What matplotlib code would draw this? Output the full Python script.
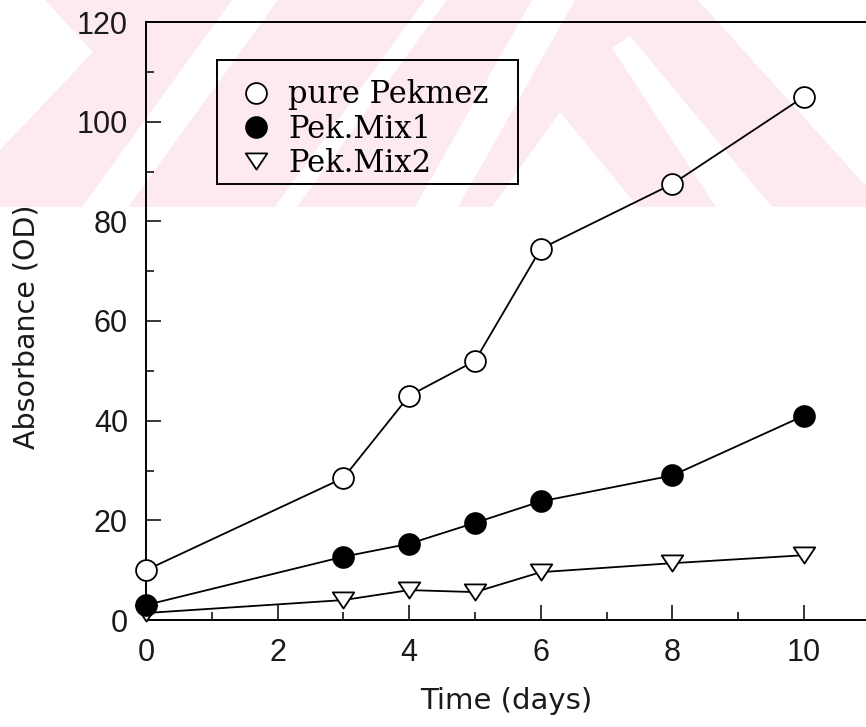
import matplotlib
matplotlib.use("Agg")
import matplotlib.pyplot as plt
from matplotlib.lines import Line2D
from matplotlib.patches import Polygon, Rectangle
from matplotlib.path import Path
from matplotlib.ticker import MultipleLocator

# ---- data ----
days = [0, 3, 4, 5, 6, 8, 10]
pure_pekmez = [10, 28.5, 45, 52, 74.5, 87.5, 105]
pek_mix1 = [3, 12.7, 15.3, 19.5, 23.8, 29, 41]
pek_mix2 = [1.4, 4.0, 6.0, 5.6, 9.6, 11.4, 13.0]
series_labels = ["pure Pekmez", "Pek.Mix1", "Pek.Mix2"]
x_ticks = [0, 2, 4, 6, 8, 10]
y_ticks = [0, 20, 40, 60, 80, 100, 120]
x_label = "Time (days)"
y_label = "Absorbance (OD)"

W, H = 866, 727
fig = plt.figure(figsize=(W / 100, H / 100), dpi=100)
fig.patch.set_facecolor("white")


def fpt(x, y):
    """pixel position (from top-left) -> figure fraction"""
    return (x / W, 1 - y / H)


# ---- faint pink stamp across the top of the page ----
PINK = "#fdeaee"
fig.add_artist(Rectangle((0, 1 - 207 / H), 1, 207 / H, transform=fig.transFigure,
                         facecolor=PINK, edgecolor="none", zorder=-2))
gaps = [
    [(0, 0), (45, 0), (93, 52), (0, 150)],
    [(82, 207), (128, 207), (278, 0), (232, 0)],
    [(275, 207), (297, 207), (447, 0), (425, 0)],
    [(415, 207), (458, 207), (575, 0), (532, 0)],
    [(560, 112), (492, 207), (638, 207)],
    [(612, 48), (630, 36), (772, 207), (716, 207)],
    [(698, 0), (866, 0), (866, 186)],
]
for g in gaps:
    fig.add_artist(Polygon([fpt(*p) for p in g], closed=True, transform=fig.transFigure,
                           facecolor="white", edgecolor="none", zorder=-1))

# ---- axes ----
x0_px, top_px, bot_px = 146, 22, 620
px_per_day = 65.8
ax = fig.add_axes([x0_px / W, 1 - bot_px / H, 1 - x0_px / W, (bot_px - top_px) / H])
ax.set_zorder(1)
ax.set_facecolor("none")
ax.set_xlim(0, (W - x0_px) / px_per_day)
ax.set_ylim(0, 120)

tri = Path([(-1, 0.75), (1, 0.75), (0, -0.75), (-1, 0.75)],
           [Path.MOVETO, Path.LINETO, Path.LINETO, Path.CLOSEPOLY])

common = dict(color="black", lw=1.3, markeredgewidth=1.3, clip_on=False)
ax.plot(days, pek_mix2, marker=tri, markersize=15.5, markerfacecolor="white", zorder=3, **common)
ax.plot(days, pek_mix1, marker="o", markersize=15, markerfacecolor="black", zorder=4, **common)
ax.plot(days, pure_pekmez, marker="o", markersize=15, markerfacecolor="white", zorder=5, **common)

for s in ["left", "bottom", "top"]:
    ax.spines[s].set_linewidth(1.4)
ax.spines["right"].set_visible(False)

ax.set_xticks(x_ticks)
ax.set_yticks(y_ticks)
ax.xaxis.set_minor_locator(MultipleLocator(1))
ax.yaxis.set_minor_locator(MultipleLocator(10))
ax.tick_params(which="both", direction="in", width=1.1, top=False, right=False)
ax.tick_params(which="major", length=10.5)
ax.tick_params(which="minor", length=5.5)
ax.tick_params(axis="x", which="major", pad=13)
ax.tick_params(axis="y", which="major", pad=13)
ax.set_axisbelow(False)
for lab in ax.get_xticklabels() + ax.get_yticklabels():
    lab.set_fontfamily("Liberation Sans")
    lab.set_fontsize(22)
    lab.set_color("#1a1a1a")

ax.set_xlabel(x_label, fontsize=21, family="DejaVu Sans", color="#1a1a1a")
ax.set_ylabel(y_label, fontsize=20.5, family="DejaVu Sans", color="#1a1a1a")
ax.xaxis.set_label_coords(0.5, -0.112)
ax.yaxis.set_label_coords(-0.147, 0.49)

# ---- legend: boxed key with marker-only entries ----
fig.add_artist(Rectangle(fpt(217, 184), 301 / W, 124 / H, transform=fig.transFigure,
                         facecolor="none", edgecolor="black", linewidth=1.4, zorder=6))
handles = [
    Line2D([], [], ls="none", marker="o", markersize=15, markerfacecolor="white",
           markeredgecolor="black", markeredgewidth=1.3),
    Line2D([], [], ls="none", marker="o", markersize=15, markerfacecolor="black",
           markeredgecolor="black", markeredgewidth=1.3),
    Line2D([], [], ls="none", marker=tri, markersize=15.5, markerfacecolor="white",
           markeredgecolor="black", markeredgewidth=1.3),
]
leg = ax.legend(handles, series_labels, loc="center left",
                bbox_to_anchor=fpt(241, 129), bbox_transform=fig.transFigure,
                borderaxespad=0, frameon=False,
                prop={"family": "DejaVu Serif", "size": 22},
                handlelength=1.0, handletextpad=0.55, labelspacing=0.1,
                borderpad=0)
leg.set_zorder(6)

fig.savefig("out.png", dpi=100)
